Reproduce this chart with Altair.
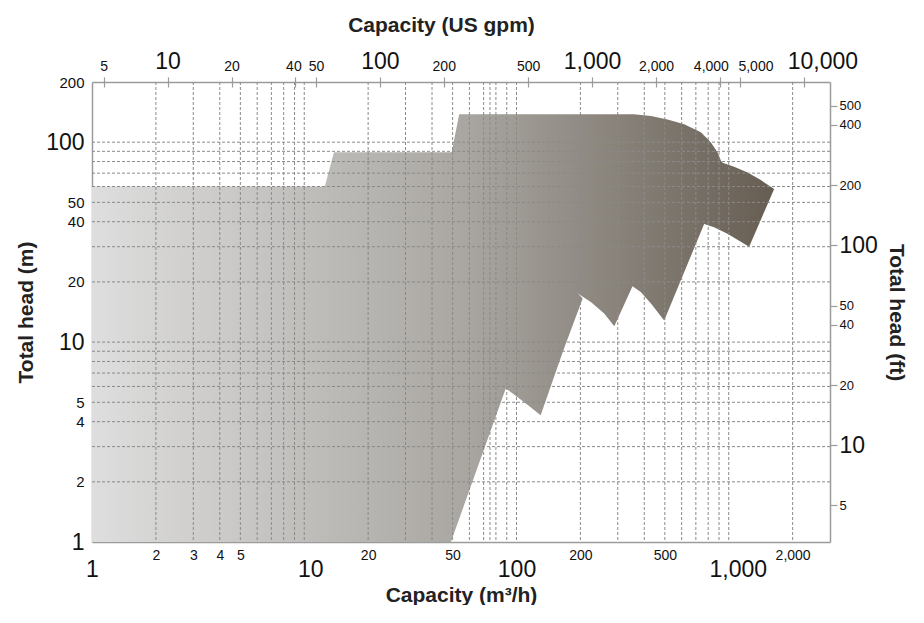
import altair as alt
import pandas as pd

# ---- operating-range outline (capacity m3/h, head m), clockwise ----
range_q = [1, 1, 12.5, 13.8, 49.5, 53.7, 357, 430, 515, 617, 739, 823, 885, 918, 935,
           1060, 1227, 1416, 1637, 1248, 986, 853, 766, 496.5, 430, 385, 352, 289, 259,
           224, 201, 194, 205, 165, 130, 113, 101, 89, 49.1]
range_h = [1, 60, 60, 89, 89, 138, 138, 135, 130, 123, 112, 100, 89, 81, 79,
           75.3, 70.5, 64.6, 58.3, 30.0, 34.8, 37.5, 39, 12.84, 15.6, 17.8, 19, 12, 13.9,
           15.85, 17.1, 17.6, 16.5, 8.9, 4.31, 4.84, 5.32, 5.86, 1]

# ---- grid lines ----
grid_q = [2, 3, 4, 5, 6, 7, 8, 9, 10, 20, 30, 40, 50, 60, 70, 75, 80, 90, 100,
          200, 300, 400, 500, 600, 700, 800, 900, 1000, 2000]
grid_h = [2, 3, 4, 5, 6, 7, 8, 9, 10, 20, 30, 40, 50, 60, 70, 80, 90, 100]

# ---- tick labels ----
bottom_ticks = [1, 2, 3, 4, 5, 10, 20, 50, 100, 200, 500, 1000, 2000]
left_ticks = [1, 2, 4, 5, 10, 20, 40, 50, 100, 200]
gpm_ticks = [5, 10, 20, 40, 50, 100, 200, 500, 1000, 2000, 4000, 5000, 10000]
ft_ticks = [5, 10, 20, 40, 50, 100, 200, 400, 500]

GPM_PER_M3H = 4.402868
FT_PER_M = 3.28084

FONT = "Liberation Sans"
GRAY = "#9b9b9b"
GRIDC = "#8a8a8a"
TITLE_SIZE = 21

shape_df = pd.DataFrame({"q": range_q, "h": range_h, "i": list(range(len(range_q)))})
gq_df = pd.DataFrame({"gq": grid_q})
gh_df = pd.DataFrame({"gh": grid_h})
tick_df = pd.DataFrame({"tq": [g / GPM_PER_M3H for g in gpm_ticks]})

xs = alt.Scale(type="log", domain=[1, 3000])
ys = alt.Scale(type="log", domain=[1, 200])


def cond(test, big, small):
    return {"condition": {"test": test, "value": big}, "value": small}


def cond_multi(pairs, default):
    return {"condition": [{"test": t, "value": v} for t, v in pairs], "value": default}


big_m = "indexof([1,10,100,1000], datum.value) >= 0"
gpm_of = "round(datum.value*%f)" % GPM_PER_M3H
big_gpm = "indexof([10,100,1000,10000], %s) >= 0" % gpm_of
big_ft = "indexof([10,100], round(datum.value*%f)) >= 0" % FT_PER_M

bottom_axis = alt.Axis(
    orient="bottom", values=bottom_ticks, labelExpr="format(datum.value, ',')",
    ticks=False, grid=False, domainColor=GRAY, domainWidth=1.5,
    labelFontSize=cond(big_m, 23, 14), labelPadding=cond(big_m, 16, 6),
    labelOffset=cond_multi([("datum.value == 10", 6), ("datum.value == 1000", 9)], 0),
    labelColor="#111", labelFont=FONT, labelOverlap=False, labelFlush=False,
    title="Capacity (m³/h)", titleFont=FONT, titleFontSize=TITLE_SIZE, titleFontWeight="bold",
    titleColor="#222", titlePadding=3,
)
left_axis = alt.Axis(
    orient="left", values=left_ticks, labelExpr="format(datum.value, ',')",
    ticks=False, grid=False, domainColor=GRAY, domainWidth=1.5,
    labelFontSize=cond(big_m, 23, 15), labelPadding=8, labelColor="#111",
    labelFont=FONT, labelOverlap=False, labelFlush=False,
    title="Total head (m)", titleFont=FONT, titleFontSize=TITLE_SIZE, titleFontWeight="bold",
    titleColor="#222", titlePadding=9,
)
top_axis = alt.Axis(
    orient="top", values=[g / GPM_PER_M3H for g in gpm_ticks],
    labelExpr="format(%s, ',')" % gpm_of,
    ticks=True, tickSize=5, tickColor=GRAY, tickWidth=1.2, grid=False,
    domainColor=GRAY, domainWidth=1.5,
    labelFontSize=cond(big_gpm, 23, 14),
    labelOffset=cond_multi([("%s == 4000" % gpm_of, -9), ("%s == 5000" % gpm_of, 15),
                            ("%s == 10000" % gpm_of, 18), ("%s == 40" % gpm_of, -2)], 0),
    labelPadding=4, labelColor="#111",
    labelFont=FONT, labelOverlap=False, labelFlush=False,
    title="Capacity (US gpm)", titleFont=FONT, titleFontSize=TITLE_SIZE, titleFontWeight="bold",
    titleColor="#222", titlePadding=15, titleX=349, titleAlign="center",
)
top_inner_axis = alt.Axis(
    orient="top", values=[g / GPM_PER_M3H for g in gpm_ticks], offset=-5,
    ticks=True, tickSize=5, tickColor=GRAY, tickWidth=1.2, grid=False,
    domain=False, labels=False, title=None,
)
right_axis = alt.Axis(
    orient="right", values=[f / FT_PER_M for f in ft_ticks],
    labelExpr="format(round(datum.value*%f), ',')" % FT_PER_M,
    ticks=True, tickSize=7, tickColor=GRAY, tickWidth=1.2, grid=False,
    domainColor=GRAY, domainWidth=1.5,
    labelFontSize=cond(big_ft, 23, 13), labelPadding=2, labelColor="#111",
    labelFont=FONT, labelOverlap=False, labelFlush=False,
    title="Total head (ft)", titleFont=FONT, titleFontSize=TITLE_SIZE, titleFontWeight="bold",
    titleColor="#222", titlePadding=8,
)

gradient = alt.Gradient(
    gradient="linear",
    stops=[alt.GradientStop(color="#dedede", offset=0),
           alt.GradientStop(color="#a9a6a1", offset=0.55),
           alt.GradientStop(color="#665d52", offset=1)],
    x1=0, x2=1, y1=0, y2=0,
)

shape = alt.Chart(shape_df).mark_line(
    fill=gradient, strokeOpacity=0, interpolate="linear-closed"
).encode(
    x=alt.X("q:Q", scale=xs, axis=bottom_axis),
    y=alt.Y("h:Q", scale=ys, axis=left_axis),
    order=alt.Order("i:Q"),
)

vgrid = alt.Chart(gq_df).mark_rule(color=GRIDC, strokeDash=[3, 2], strokeWidth=1).encode(
    x=alt.X("gq:Q", scale=xs, axis=top_axis),
)
hgrid = alt.Chart(gh_df).mark_rule(color=GRIDC, strokeDash=[3, 2], strokeWidth=1).encode(
    y=alt.Y("gh:Q", scale=ys, axis=right_axis),
)
inner_ticks = alt.Chart(tick_df).mark_rule(opacity=0).encode(
    x=alt.X("tq:Q", scale=xs, axis=top_inner_axis),
)

chart = alt.layer(shape, vgrid, hgrid, inner_ticks).resolve_axis(
    x="independent", y="independent"
).properties(
    width=738, height=460,
    padding={"left": 7, "top": 6, "right": 8, "bottom": 0},
    background="white",
).configure_view(stroke=None)

chart.save("out.html", embed_options={"renderer": "svg", "actions": False})
